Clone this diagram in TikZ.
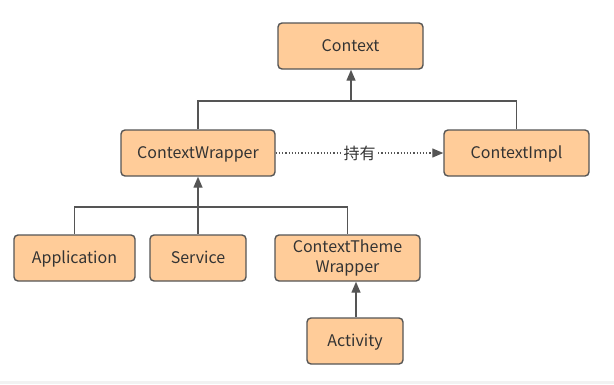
\documentclass[tikz,border=0pt]{standalone}
\usepackage{fontspec}
\setmainfont{Noto Sans CJK SC}
\usetikzlibrary{arrows.meta}
\definecolor{boxfill}{HTML}{FFCC99}
\definecolor{linec}{HTML}{555555}
\definecolor{textc}{HTML}{333333}
\begin{document}
\begin{tikzpicture}[x=1pt,y=-1pt,
  box/.style={draw=linec,line width=1.4pt,fill=boxfill,rounded corners=4pt,minimum height=46pt,text=textc,font=\fontsize{16}{20}\selectfont,inner sep=2pt,align=center},
  one/.style={text height=12pt,text depth=2pt},
  conn/.style={draw=linec,line width=1.4pt},
  tip/.style={-{Triangle[length=11pt,width=9pt]}},
  arr/.style={conn,tip}]
\useasboundingbox (0,0) rectangle (614,384);
\fill[gray!10] (0,381) rectangle (614,384);
\node[box,one,minimum width=145pt] (ctx) at (350.5,46) {Context};
\node[box,one,minimum width=154pt] (cw) at (198,153) {ContextWrapper};
\node[box,one,minimum width=145pt] (ci) at (516.5,153) {ContextImpl};
\node[box,one,minimum width=121pt] (app) at (74.5,258) {Application};
\node[box,one,minimum width=96pt] (svc) at (198,258) {Service};
\node[box,minimum width=145pt] (ctw) at (347.5,258) {ContextTheme\\Wrapper};
\node[box,one,minimum width=96pt] (act) at (355,341) {Activity};
\coordinate (b1) at (351,101);
\coordinate (b2) at (198,207);
\draw[conn] (cw.north) |- (b1) -| (ci.north);
\draw[arr] (b1) -- (ctx.south -| b1);
\draw[conn] (app.north) |- (b2) -| (ctw.north);
\draw[conn] (svc.north) -- (b2);
\draw[arr] (b2) -- (cw.south);
\draw[arr] (act.north -| 356,0) -- (ctw.south -| 356,0);
\draw[conn,line width=1.2pt,dotted,tip] (cw.east) -- node[fill=white,inner sep=1pt,text=textc,font=\fontsize{16}{17}\selectfont,pos=0.5] (lbl) {持有} (ci.west);
\end{tikzpicture}
\end{document}
